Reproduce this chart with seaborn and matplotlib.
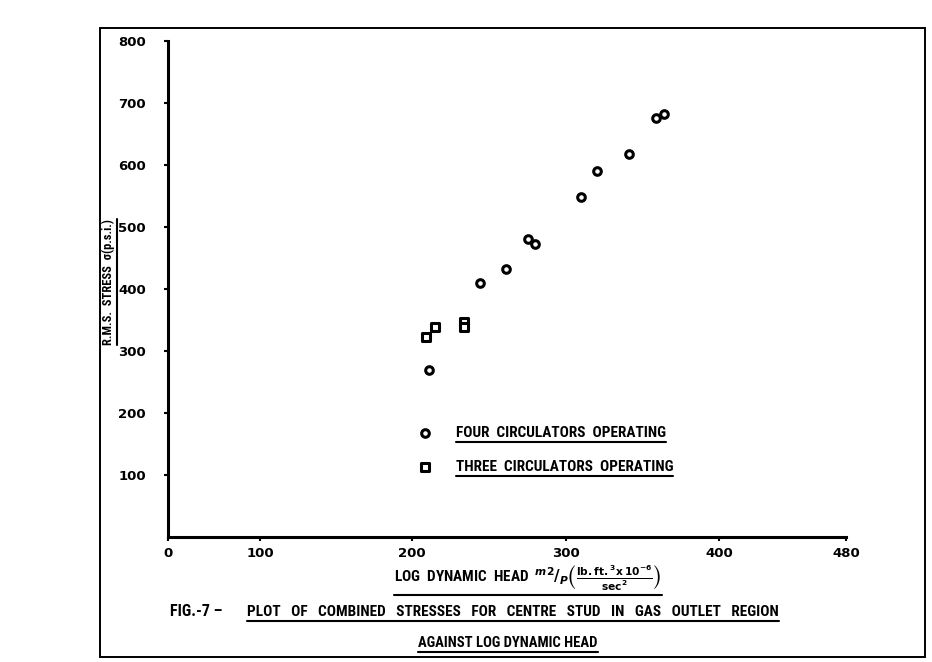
import matplotlib
matplotlib.use("Agg")
import matplotlib.pyplot as plt
import numpy as np
import pandas as pd
import seaborn as sns
from matplotlib.lines import Line2D
from matplotlib.patches import Rectangle

# values
four_x = [211, 244, 261, 275, 280, 310, 320, 341, 359, 364]
four_y = [270, 410, 433, 480, 472, 549, 591, 617, 676, 682]
three_x = [209, 215, 234, 234]
three_y = [322, 338, 346, 338]
groups = ["FOUR  CIRCULATORS  OPERATING", "THREE  CIRCULATORS  OPERATING"]
x_ticks = [0, 100, 200, 300, 400, 480]
y_ticks = [100, 200, 300, 400, 500, 600, 700, 800]

# the hand-drawn x axis is not evenly spaced: tick value -> drawn distance
scale_pos = [0, 92, 244, 398, 551, 678]

df = pd.DataFrame({
    "head": four_x + three_x,
    "stress": four_y + three_y,
    "group": [groups[0]] * len(four_x) + [groups[1]] * len(three_x),
})

sns.set_theme(style="ticks")
plt.rcParams["font.family"] = ["Roboto Condensed", "Noto Sans Condensed",
                               "Liberation Sans Narrow", "DejaVu Sans"]
plt.rcParams["font.weight"] = "bold"
for k in ("text.color", "axes.labelcolor", "xtick.color", "ytick.color"):
    plt.rcParams[k] = "black"

W, H = 932, 662
fig = plt.figure(figsize=(W / 100, H / 100), dpi=100)
ax = fig.add_axes([168 / W, 1 - 537 / H, 678 / W, 496 / H])


def fwd(v):
    return np.interp(v, x_ticks, scale_pos)


def inv(p):
    return np.interp(p, scale_pos, x_ticks)


ax.set_xscale("function", functions=(fwd, inv))

markers = {groups[0]: "o", groups[1]: "s"}
for g in groups:
    sns.scatterplot(data=df[df.group == g], x="head", y="stress", ax=ax,
                    marker=markers[g], s=30, color="white", edgecolor="black",
                    linewidth=2.2, label=g, zorder=3)

ax.set_xlim(0, 480)
ax.set_ylim(0, 800)
ax.set_xticks(x_ticks)
ax.set_yticks(y_ticks)
ax.set_xticklabels([str(t) for t in x_ticks], fontfamily="DejaVu Sans",
                   fontweight="bold", fontsize=9.5)
ax.set_yticklabels([str(t) for t in y_ticks], fontfamily="DejaVu Sans",
                   fontweight="bold", fontsize=9.5)
ax.tick_params(axis="both", direction="out", length=3, width=1.5, color="black")
ax.tick_params(axis="y", pad=13)
ax.tick_params(axis="x", pad=4)
sns.despine(ax=ax)
for sp in ("left", "bottom"):
    ax.spines[sp].set_linewidth(2.2)
    ax.spines[sp].set_color("black")

ax.set_xlabel(r"LOG  DYNAMIC  HEAD  $^{m2}/_{P}\left(\frac{\mathbf{lb.ft.^3x\,10^{-6}}}{\mathbf{sec^2}}\right)$",
              fontsize=11, fontweight="bold")
ax.xaxis.set_label_coords((528 - 168) / 678, -(578 - 537) / 496)
ax.xaxis.label.set_va("center")
ax.set_ylabel("R.M.S.  STRESS  σ(p.s.i.)", fontsize=9, fontweight="bold")
ax.yaxis.set_label_coords((108 - 168) / 678, (537 - 282) / 496)
ax.yaxis.label.set_va("center")

leg = ax.legend(loc="center left", bbox_to_anchor=((404 - 168) / 678, (537 - 450) / 496),
                frameon=False, fontsize=11, handlelength=1.0, handletextpad=1.5,
                labelspacing=1.25, markerscale=1.0)

fig.text(170 / W, 1 - 612 / H, "FIG.-7 –", fontsize=11.5, fontweight="bold", va="center")
cap1 = fig.text(247 / W, 1 - 612 / H,
                "PLOT   OF   COMBINED   STRESSES   FOR   CENTRE   STUD   IN   GAS   OUTLET   REGION",
                fontsize=11, fontweight="bold", va="center")
cap2 = fig.text(508 / W, 1 - 643 / H, "AGAINST LOG DYNAMIC HEAD", fontsize=10.5,
                fontweight="bold", va="center", ha="center")

fig.add_artist(Rectangle((100 / W, 1 - 657 / H), 825 / W, 629 / H, transform=fig.transFigure,
                         fill=False, lw=1.4, edgecolor="black"))

fig.canvas.draw()
tf = fig.transFigure.inverted()


def underline(t, pad=2, lw=1.5, vertical=False):
    bb = t.get_window_extent()
    if vertical:
        pts = tf.transform([(bb.x1 + pad, bb.y0), (bb.x1 + pad, bb.y1)])
    else:
        pts = tf.transform([(bb.x0, bb.y0 - pad), (bb.x1, bb.y0 - pad)])
    fig.add_artist(Line2D(pts[:, 0], pts[:, 1], transform=fig.transFigure,
                          color="black", lw=lw))


for t in leg.get_texts():
    underline(t)
underline(cap1)
underline(cap2)
underline(ax.xaxis.label)
underline(ax.yaxis.label, vertical=True)

fig.savefig("out.png", dpi=100, facecolor="white")
